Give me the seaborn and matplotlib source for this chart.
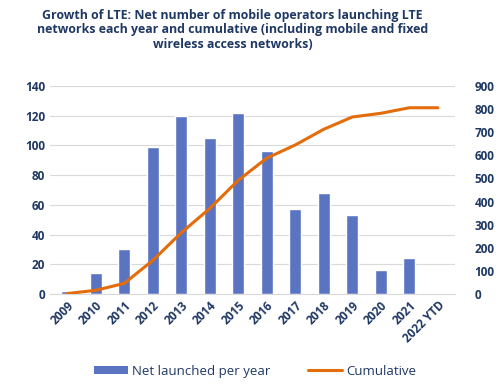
import matplotlib
matplotlib.use("Agg")
import matplotlib.pyplot as plt
import seaborn as sns
import numpy as np
import pandas as pd
from matplotlib.patches import Patch
from matplotlib.lines import Line2D

years = ["2009", "2010", "2011", "2012", "2013", "2014", "2015", "2016",
         "2017", "2018", "2019", "2020", "2021", "2022 YTD"]
net_launched = [2, 14, 30, 99, 120, 105, 122, 96, 57, 68, 53, 16, 24, 0]
cumulative = [2, 16, 46, 145, 265, 370, 492, 588, 645, 713, 766, 782, 806, 806]

NAVY = "#1f3864"
BAR = "#5b74c1"
ORANGE = "#e46c0a"

sns.set_style("white")
plt.rcParams["font.family"] = ["Open Sans", "DejaVu Sans"]

df = pd.DataFrame({"year": years, "net": net_launched, "cum": cumulative})

fig = plt.figure(figsize=(5, 3.91), dpi=100)
ax = fig.add_axes([0.10, 0.248, 0.81, 0.532])

sns.barplot(data=df, x="year", y="net", color=BAR, width=0.42,
            saturation=1, ax=ax, zorder=2)
ax.set_ylim(0, 140)
ax.set_yticks(range(0, 141, 20))
ax.yaxis.grid(True, color="#d9d9d9", linewidth=0.8, zorder=0)
ax.set_axisbelow(True)
ax.set_xlabel("")
ax.set_ylabel("")
ax.set_xlim(-0.6, len(years) - 0.4)
for s in ["top", "left", "right"]:
    ax.spines[s].set_visible(False)
ax.spines["bottom"].set_color("#d9d9d9")
ax.tick_params(axis="both", length=0, colors=NAVY, labelsize=8.5)
ax.set_xticks(range(len(years)))
ax.set_xticklabels(years, rotation=45, ha="right", rotation_mode="anchor",
                   fontweight="bold")
for t in ax.get_yticklabels():
    t.set_fontweight("bold")

ax2 = ax.twinx()
sns.lineplot(x=np.arange(len(years)), y=df["cum"], color=ORANGE,
             linewidth=2.2, ax=ax2)
ax2.set_ylim(0, 900)
ax2.set_yticks(range(0, 901, 100))
ax2.set_ylabel("")
for s in ["top", "left", "right", "bottom"]:
    ax2.spines[s].set_visible(False)
ax2.tick_params(axis="y", length=0, colors=NAVY, labelsize=8.5, pad=14)
for t in ax2.get_yticklabels():
    t.set_fontweight("bold")

fig.suptitle("Growth of LTE: Net number of mobile operators launching LTE\n"
             "networks each year and cumulative (including mobile and fixed\n"
             "wireless access networks)",
             x=0.465, y=0.978, fontsize=8.9, fontweight="bold", color=NAVY,
             linespacing=1.15)

handles = [Patch(facecolor=BAR, edgecolor="none"),
           Line2D([0], [0], color=ORANGE, linewidth=2.2)]
leg = fig.legend(handles, ["Net launched per year", "Cumulative"],
                 loc="center", bbox_to_anchor=(0.51, 0.051), ncol=2,
                 frameon=False, fontsize=9.5, handlelength=2.6,
                 handleheight=0.6, columnspacing=2.8, handletextpad=0.3)
for t in leg.get_texts():
    t.set_color(NAVY)

fig.savefig("out.png", dpi=100)
